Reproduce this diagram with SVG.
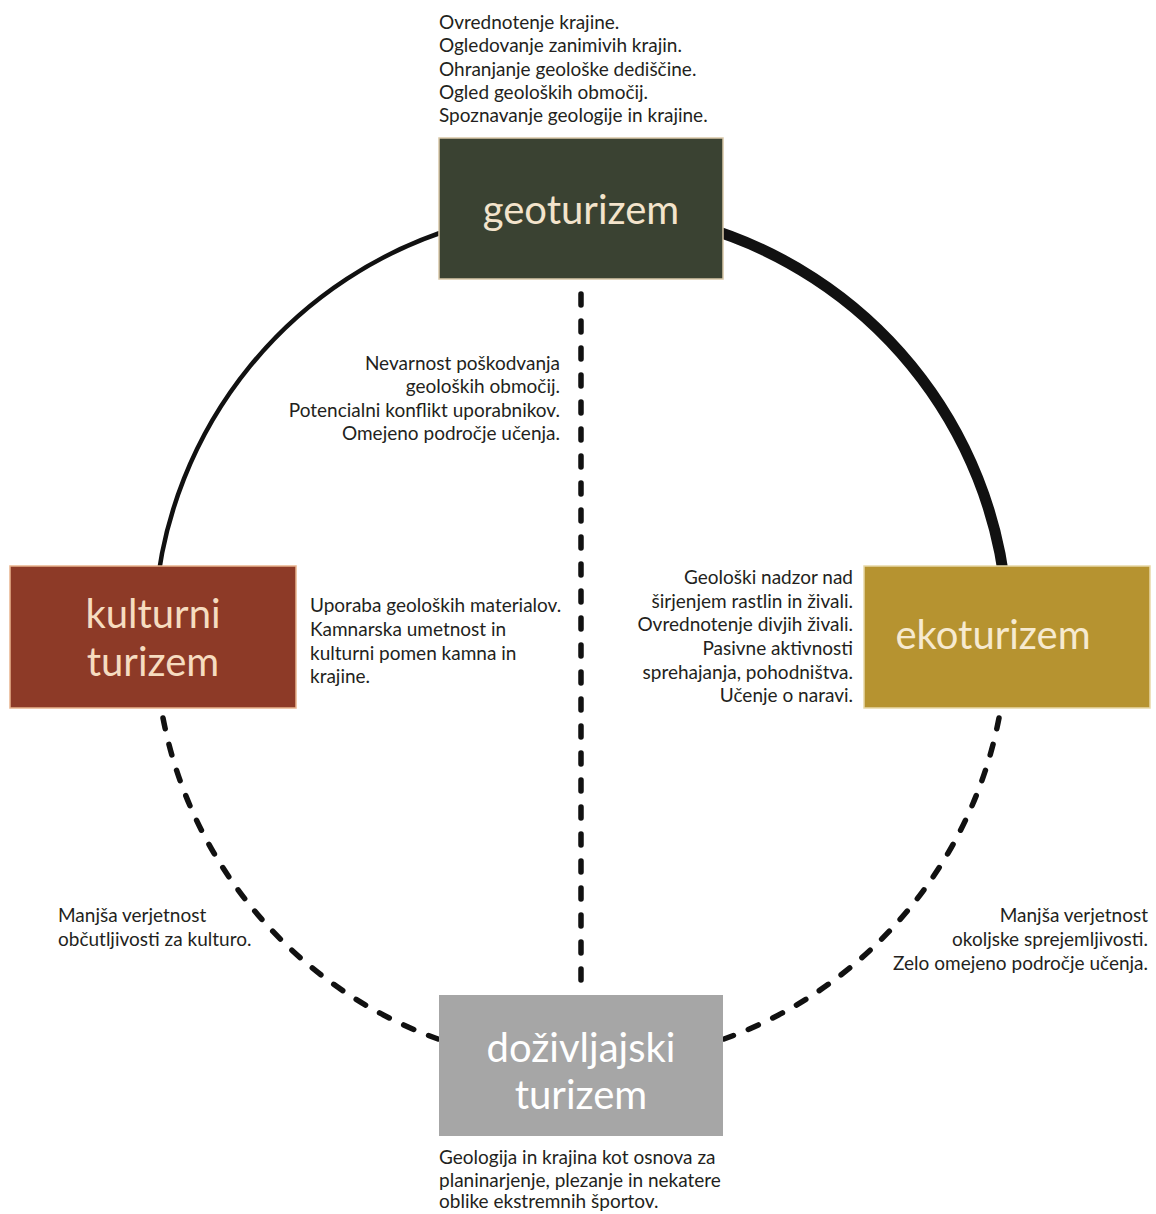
<svg xmlns="http://www.w3.org/2000/svg" width="1156" height="1214" viewBox="0 0 1156 1214">
<style>
.t{font-family:Lato,"Liberation Sans",sans-serif;font-size:19px;fill:#231f20}
.r{text-anchor:end}
.lab{font-family:Lato,"Liberation Sans",sans-serif;font-size:40px;text-anchor:middle}
.arc{fill:none;stroke:#111}
.dash{fill:none;stroke:#111;stroke-width:5.5;stroke-linecap:round;stroke-dasharray:11 16}
</style>
<rect width="1156" height="1214" fill="#fff"/>
<g id="connectors">
<path class="arc" stroke-width="4.5" d="M460,226.5 A427,427 0 0 0 155.5,600"/>
<path class="arc" stroke-width="11" d="M700,226 A427,427 0 0 1 1006.5,600"/>
<path class="dash" d="M163,718 A427,427 0 0 0 438,1039"/>
<path class="dash" d="M999,718 A427,427 0 0 1 724,1039"/>
<path class="dash" d="M581,294 L581,993" stroke-dasharray="12 16"/>
</g>
<g id="geoturizem">
<rect x="439" y="138" width="284" height="141" fill="#3a4232" stroke="#d9c8a8" stroke-width="1.5"/>
<text class="lab" x="581" y="224" fill="#f3e4cc">geoturizem</text>
</g>
<g id="kulturni">
<rect x="10" y="566" width="286" height="142" fill="#8d3a27" stroke="#e9b48f" stroke-width="1.5"/>
<text class="lab" x="153" y="628" fill="#f6dcc0">kulturni</text>
<text class="lab" x="153" y="676" fill="#f6dcc0">turizem</text>
</g>
<g id="ekoturizem">
<rect x="864" y="566" width="286" height="142" fill="#b69330" stroke="#e8d9a8" stroke-width="1.5"/>
<text class="lab" x="993" y="649" fill="#f6ead0">ekoturizem</text>
</g>
<g id="dozivljajski">
<rect x="439" y="995" width="284" height="141" fill="#a6a6a6"/>
<text class="lab" x="581" y="1062" fill="#ffffff">doživljajski</text>
<text class="lab" x="581" y="1109" fill="#ffffff">turizem</text>
</g>
<g id="texts">
<text class="t" x="439" y="29">Ovrednotenje krajine.</text>
<text class="t" x="439" y="52.3">Ogledovanje zanimivih krajin.</text>
<text class="t" x="439" y="75.6">Ohranjanje geološke dediščine.</text>
<text class="t" x="439" y="99">Ogled geoloških območij.</text>
<text class="t" x="439" y="122.3">Spoznavanje geologije in krajine.</text>

<text class="t r" x="560" y="370">Nevarnost poškodvanja</text>
<text class="t r" x="560" y="393.3">geoloških območij.</text>
<text class="t r" x="560" y="416.6">Potencialni konflikt uporabnikov.</text>
<text class="t r" x="560" y="440">Omejeno področje učenja.</text>

<text class="t" x="310" y="612">Uporaba geoloških materialov.</text>
<text class="t" x="310" y="636">Kamnarska umetnost in</text>
<text class="t" x="310" y="660">kulturni pomen kamna in</text>
<text class="t" x="310" y="683">krajine.</text>

<text class="t r" x="853" y="584">Geološki nadzor nad</text>
<text class="t r" x="853" y="607.5">širjenjem rastlin in živali.</text>
<text class="t r" x="853" y="631">Ovrednotenje divjih živali.</text>
<text class="t r" x="853" y="654.5">Pasivne aktivnosti</text>
<text class="t r" x="853" y="678.5">sprehajanja, pohodništva.</text>
<text class="t r" x="853" y="702">Učenje o naravi.</text>

<text class="t" x="58" y="922">Manjša verjetnost</text>
<text class="t" x="58" y="946">občutljivosti za kulturo.</text>

<text class="t r" x="1148" y="922">Manjša verjetnost</text>
<text class="t r" x="1148" y="946">okoljske sprejemljivosti.</text>
<text class="t r" x="1148" y="970">Zelo omejeno področje učenja.</text>

<text class="t" x="439" y="1164">Geologija in krajina kot osnova za</text>
<text class="t" x="439" y="1187">planinarjenje, plezanje in nekatere</text>
<text class="t" x="439" y="1208">oblike ekstremnih športov.</text>
</g>
</svg>
